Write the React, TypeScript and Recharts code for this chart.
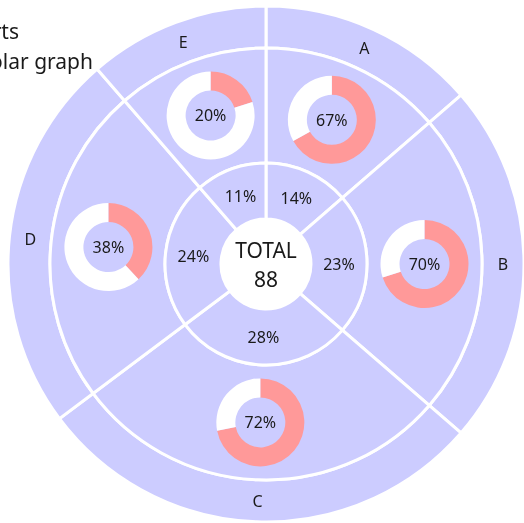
import React from "react";
import { PieChart, Pie, Cell, Sector } from "recharts";

const categories = ["A", "B", "C", "D", "E"];
const counts = [12, 20, 25, 21, 10];
const innerShares = [67, 70, 72, 38, 20];
const titleLines = ["Pie charts", "in a polar graph"];

const LAVENDER = "#CCCCFF";
const PINK = "#FF9999";
const TEXT = "#1a1a1a";
const FONT = "'Noto Sans', 'Open Sans', sans-serif";
const RADIAN = Math.PI / 180;

const data = categories.map((name, i) => ({ name, value: counts[i] }));
const total = counts.reduce((a, b) => a + b, 0);

const polar = (cx: number, cy: number, r: number, angle: number) => ({
  x: cx + r * Math.cos(-angle * RADIAN),
  y: cy + r * Math.sin(-angle * RADIAN),
});

const renderLetter = (props: any) => {
  const { cx, cy, midAngle, innerRadius, outerRadius, index } = props;
  const p = polar(cx, cy, (innerRadius + outerRadius) / 2, midAngle);
  return (
    <text
      key={`letter-${index}`}
      x={p.x}
      y={p.y}
      textAnchor="middle"
      dominantBaseline="central"
      fontSize={16}
      fontFamily={FONT}
      fill={TEXT}
    >
      {categories[index]}
    </text>
  );
};

const renderDonut = (props: any) => {
  const { cx, cy, midAngle, innerRadius, outerRadius, index } = props;
  const p = polar(cx, cy, (innerRadius + outerRadius) / 2, midAngle);
  const share = innerShares[index];
  const end = 90 - share * 3.6;
  return (
    <g key={`donut-${index}`}>
      <Sector cx={p.x} cy={p.y} innerRadius={25} outerRadius={44} startAngle={90} endAngle={end} fill={PINK} />
      <Sector cx={p.x} cy={p.y} innerRadius={25} outerRadius={44} startAngle={end} endAngle={-270} fill="#fff" />
      <text
        x={p.x}
        y={p.y}
        textAnchor="middle"
        dominantBaseline="central"
        fontSize={16}
        fontFamily={FONT}
        fill={TEXT}
      >
        {share}%
      </text>
    </g>
  );
};

const renderPercent = (props: any) => {
  const { cx, cy, midAngle, innerRadius, outerRadius, percent, index } = props;
  const p = polar(cx, cy, (innerRadius + outerRadius) / 2, midAngle);
  return (
    <text
      key={`pct-${index}`}
      x={p.x}
      y={p.y}
      textAnchor="middle"
      dominantBaseline="central"
      fontSize={16}
      fontFamily={FONT}
      fill={TEXT}
    >
      {Math.round(percent * 100)}%
    </text>
  );
};

const renderTotal = (props: any) => {
  const { cx, cy } = props;
  return (
    <g key="total">
      <text x={cx} y={cy - 14} textAnchor="middle" dominantBaseline="central" fontSize={21} fontFamily={FONT} fill={TEXT}>
        TOTAL
      </text>
      <text x={cx} y={cy + 15} textAnchor="middle" dominantBaseline="central" fontSize={21} fontFamily={FONT} fill={TEXT}>
        {total}
      </text>
    </g>
  );
};

const ringProps = {
  dataKey: "value",
  cx: 266,
  cy: 264,
  startAngle: 90,
  endAngle: -270,
  stroke: "#fff",
  strokeWidth: 3,
  labelLine: false,
  isAnimationActive: false,
};

export default function App() {
  return (
    <div style={{ position: "fixed", left: 0, top: 0, width: 524, height: 523 }}>
      <PieChart width={524} height={523} margin={{ top: 0, right: 0, bottom: 0, left: 0 }}>
        <Pie {...ringProps} data={data} innerRadius={216} outerRadius={258} label={renderLetter}>
          {data.map((d) => (
            <Cell key={d.name} fill={LAVENDER} />
          ))}
        </Pie>
        <Pie {...ringProps} data={data} innerRadius={101} outerRadius={216} label={renderDonut}>
          {data.map((d) => (
            <Cell key={d.name} fill={LAVENDER} />
          ))}
        </Pie>
        <Pie {...ringProps} data={data} innerRadius={45} outerRadius={101} label={renderPercent}>
          {data.map((d) => (
            <Cell key={d.name} fill={LAVENDER} />
          ))}
        </Pie>
        <Pie
          {...ringProps}
          data={[{ name: "total", value: total }]}
          innerRadius={0}
          outerRadius={44}
          fill="#fff"
          strokeWidth={0}
          label={renderTotal}
        />
      </PieChart>
      <svg
        width={524}
        height={523}
        style={{ position: "absolute", left: 0, top: 0, pointerEvents: "none" }}
      >
        <text x={19} y={39} textAnchor="end" fontSize={21} fontFamily={FONT} fill={TEXT}>
          {titleLines[0]}
        </text>
        <text x={93} y={69} textAnchor="end" fontSize={21} fontFamily={FONT} fill={TEXT}>
          {titleLines[1]}
        </text>
      </svg>
    </div>
  );
}
